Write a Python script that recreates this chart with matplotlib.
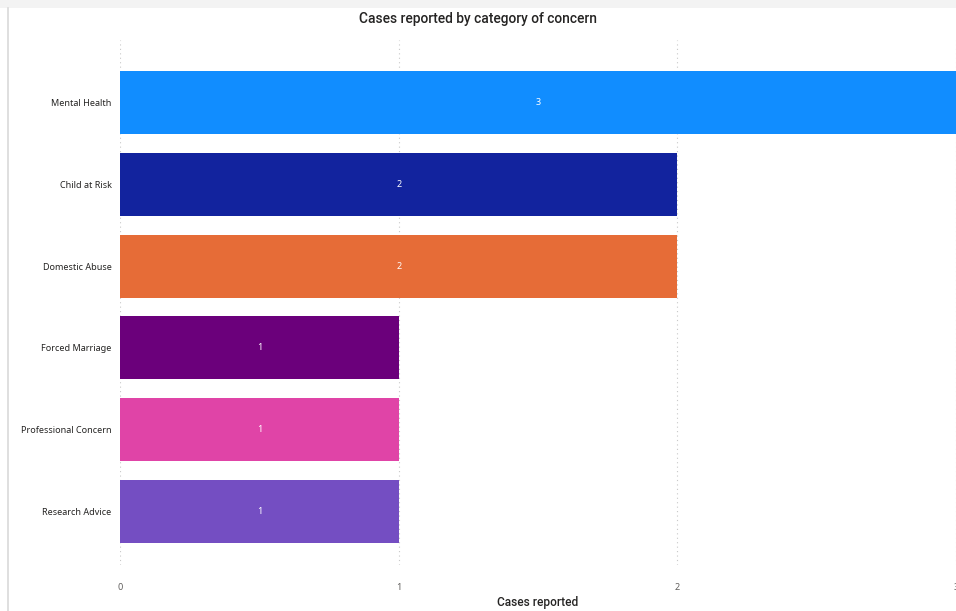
import matplotlib
matplotlib.use("Agg")
import matplotlib.pyplot as plt
from matplotlib.patches import Rectangle
from matplotlib.lines import Line2D

categories = ["Mental Health", "Child at Risk", "Domestic Abuse",
              "Forced Marriage", "Professional Concern", "Research Advice"]
values = [3, 2, 2, 1, 1, 1]
colors = ["#118DFF", "#12239E", "#E66C37", "#6B007B", "#E044A7", "#744EC2"]
xticks = [0, 1, 2, 3]

plt.rcParams['font.family'] = ['Noto Sans', 'DejaVu Sans']

W, H = 956, 611
fig = plt.figure(figsize=(W/100, H/100), dpi=100)
fig.patch.set_facecolor("white")

# top gray strip and left border
fig.patches.append(Rectangle((0, 1 - 8/H), 1, 8/H, transform=fig.transFigure,
                             facecolor="#F3F3F3", edgecolor="none", zorder=0))
fig.lines.append(Line2D([8/W, 8/W], [0, 1 - 8/H], transform=fig.transFigure,
                        color="#D9D9D9", lw=1.2))

ax_left, ax_right, ax_top, ax_bottom = 120, 956, 40, 565
ax = fig.add_axes([ax_left/W, 1 - ax_bottom/H, (ax_right-ax_left)/W, (ax_bottom-ax_top)/H])
ax.set_facecolor("none")

ypos = list(range(len(categories)))
ax.barh(ypos, values, height=0.77, color=colors, zorder=2)
for y, v in zip(ypos, values):
    ax.text(v/2, y, str(v), ha="center", va="center", color="white", fontsize=6.5, zorder=3)

ax.set_xlim(0, (ax_right-ax_left)/279.0)
ax.set_ylim(5.65, -0.76)
ax.set_yticks(ypos)
ax.set_yticklabels(categories, fontsize=6.5, color="#252423")
ax.set_xticks(xticks)
ax.set_xticklabels([str(t) for t in xticks], fontsize=6.5, color="#605E5C")
ax.tick_params(axis="both", length=0)
ax.tick_params(axis="y", pad=6)
ax.tick_params(axis="x", pad=13)
for s in ax.spines.values():
    s.set_visible(False)
ax.grid(axis="x", linestyle=(0, (1, 3)), color="#C8C8C8", lw=0.8, zorder=0)
ax.set_axisbelow(True)

ax.set_xlabel("Cases reported", fontsize=8.6, color="#252423", labelpad=3,
              fontweight="medium", family=["Roboto", "DejaVu Sans"])
fig.text(0.5, 1 - 19/H, "Cases reported by category of concern", ha="center", va="center",
         fontsize=9.9, color="#252423", fontweight="medium", family=["Roboto", "DejaVu Sans"])

fig.savefig("out.png", dpi=100)
